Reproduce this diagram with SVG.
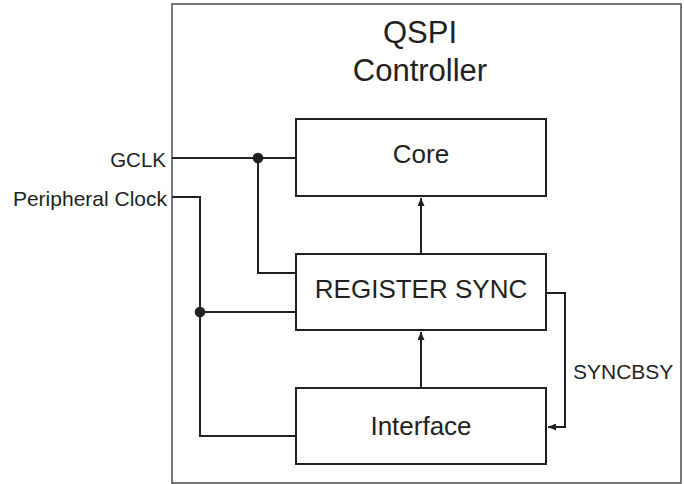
<svg xmlns="http://www.w3.org/2000/svg" width="684" height="484" viewBox="0 0 684 484">
<style>
.box{fill:#fff;stroke:#231f20;stroke-width:2}
.wire{fill:none;stroke:#231f20;stroke-width:2}
.t{font-family:"Liberation Sans",Arial,sans-serif;fill:#231f20}
.lbl{font-size:21px}
.node{font-size:26px;text-anchor:middle}
.title{font-size:31px;text-anchor:middle}
</style>
<defs>
<marker id="ah" markerUnits="userSpaceOnUse" markerWidth="8" markerHeight="7" refX="8" refY="3.5" orient="auto">
<path d="M0,0 L8,3.5 L0,7 z" fill="#231f20"/>
</marker>
</defs>
<g id="controller">
<rect x="172" y="4" width="509" height="479" fill="#fff" stroke="#555" stroke-width="1.6"/>
<text class="t title" x="420" y="43">QSPI</text>
<text class="t title" x="420" y="81">Controller</text>
</g>
<g id="connectors">
<path class="wire" d="M172,158 H296"/>
<path class="wire" d="M258,158 V273 H296"/>
<path class="wire" d="M172,197 H200 V436 H296"/>
<path class="wire" d="M200,312 H296"/>
<path class="wire" d="M421,254 V198" marker-end="url(#ah)"/>
<path class="wire" d="M421,388 V332" marker-end="url(#ah)"/>
<path class="wire" d="M546,293 H565 V427 H548" marker-end="url(#ah)"/>
<circle cx="258" cy="158" r="5.3" fill="#231f20"/>
<circle cx="200" cy="312" r="5.3" fill="#231f20"/>
</g>
<g id="core">
<rect class="box" x="296" y="119" width="250" height="77"/>
<text class="t node" x="421" y="163">Core</text>
</g>
<g id="register-sync">
<rect class="box" x="296" y="254" width="250" height="76"/>
<text class="t node" x="421" y="298">REGISTER SYNC</text>
</g>
<g id="interface">
<rect class="box" x="296" y="388" width="250" height="76"/>
<text class="t node" x="421" y="435">Interface</text>
</g>
<g id="labels">
<text class="t lbl" x="166" y="167" text-anchor="end" style="font-size:20.5px">GCLK</text>
<text class="t lbl" x="167" y="206" text-anchor="end">Peripheral Clock</text>
<text class="t lbl" x="573" y="379">SYNCBSY</text>
</g>
</svg>
